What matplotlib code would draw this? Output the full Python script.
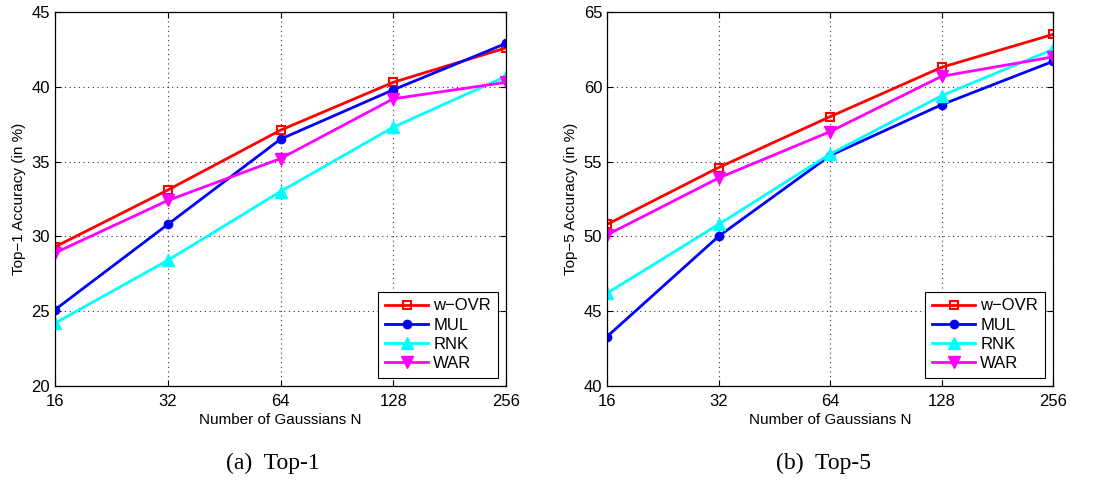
import numpy as np
import matplotlib.pyplot as plt
from matplotlib.ticker import FixedLocator, FixedFormatter, NullLocator

gaussians = [16, 32, 64, 128, 256]
labels = ['w\u2212OVR', 'MUL', 'RNK', 'WAR']

top1_wovr = [29.3, 33.1, 37.1, 40.3, 42.6]
top1_mul = [25.1, 30.8, 36.5, 39.8, 42.9]
top1_rnk = [24.2, 28.4, 33.0, 37.3, 40.7]
top1_war = [28.9, 32.4, 35.2, 39.2, 40.3]

top5_wovr = [50.8, 54.6, 58.0, 61.3, 63.5]
top5_mul = [43.3, 50.0, 55.4, 58.8, 61.7]
top5_rnk = [46.2, 50.8, 55.5, 59.4, 62.5]
top5_war = [50.1, 53.9, 57.0, 60.7, 62.0]

plt.rcParams['font.family'] = ['Liberation Sans', 'DejaVu Sans']

styles = [
    dict(color='#ff0000', marker='s', ms=6, mfc='none', mew=1.5),
    dict(color='#0000ff', marker='o', ms=6),
    dict(color='#00ffff', marker='^', ms=9),
    dict(color='#ff00ff', marker='v', ms=9),
]

fig = plt.figure(figsize=(11.04, 4.8), dpi=100)
ax1 = fig.add_axes([55/1104, 1 - 386/480, 451/1104, 374/480])
ax2 = fig.add_axes([607/1104, 1 - 386/480, 446/1104, 374/480])


def draw(ax, series, ylim, yticks, ylabel):
    for vals, lab, st in zip(series, labels, styles):
        ax.plot(gaussians, vals, lw=2.0, label=lab, **st)
    ax.set_xscale('log', base=2)
    ax.set_xlim(16, 256)
    ax.xaxis.set_major_locator(FixedLocator(gaussians))
    ax.xaxis.set_major_formatter(FixedFormatter([str(g) for g in gaussians]))
    ax.xaxis.set_minor_locator(NullLocator())
    ax.set_ylim(*ylim)
    ax.set_yticks(yticks)
    ax.tick_params(direction='in', labelsize=12, top=True, right=True, length=4)
    ax.tick_params(axis='x', pad=6)
    ax.grid(True, linestyle=(0, (1, 3.2)), color='#333333', lw=0.8)
    ax.set_xlabel('Number of Gaussians N', fontsize=11, labelpad=3)
    ax.set_ylabel(ylabel, fontsize=11, labelpad=4)
    for s in ax.spines.values():
        s.set_linewidth(0.9)
    leg = ax.legend(loc='lower right', fontsize=12, fancybox=False, edgecolor='black',
                    framealpha=1, handlelength=2.6, borderaxespad=0.5,
                    labelspacing=0.25, handletextpad=0.3, borderpad=0.4)
    leg.get_frame().set_linewidth(0.8)


draw(ax1, [top1_wovr, top1_mul, top1_rnk, top1_war], (20, 45), [20, 25, 30, 35, 40, 45],
     'Top\u22121 Accuracy (in %)')
draw(ax2, [top5_wovr, top5_mul, top5_rnk, top5_war], (40, 65), [40, 45, 50, 55, 60, 65],
     'Top\u22125 Accuracy (in %)')

fig.text(273/1104, 1 - 463/480, '(a)  Top-1', ha='center', va='center',
         fontsize=17, family='Liberation Serif')
fig.text(824/1104, 1 - 463/480, '(b)  Top-5', ha='center', va='center',
         fontsize=17, family='Liberation Serif')

fig.savefig('out.png', dpi=100)
